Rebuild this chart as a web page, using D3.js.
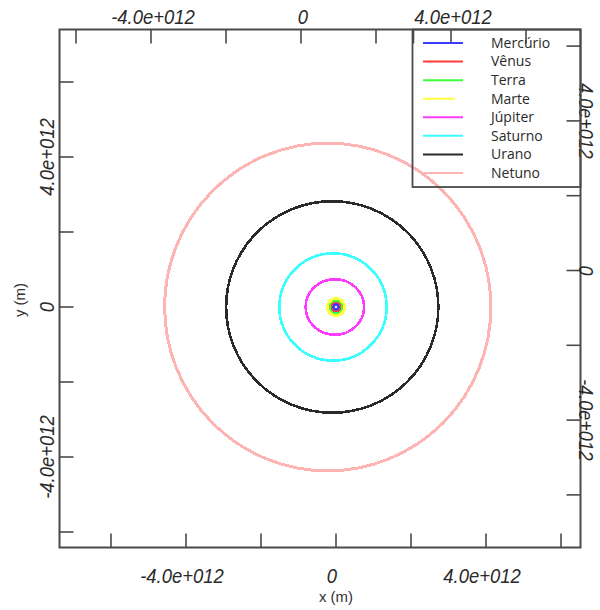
<!DOCTYPE html>
<html>
<head>
<meta charset="utf-8">
<script src="https://cdn.jsdelivr.net/npm/d3@7"></script>
<style>
html,body{margin:0;padding:0;background:#fff;}
svg{display:block;}
</style>
</head>
<body>
<svg id="chart" width="600" height="610"></svg>
<script>
// ---- data ----
const planets = ["Mercúrio", "Vênus", "Terra", "Marte", "Júpiter", "Saturno", "Urano", "Netuno"];
const colors  = ["#3b3bff", "#ff3b3b", "#3bff3b", "#ffff3b", "#ff3bff", "#3bffff", "#2a2a2a", "#ffb4b4"];
// orbit centres and semi-axes (m)
const orbitCx = [0, 0, 0, 0, -0.03e12, -0.08e12, -0.1e12, -0.22e12];
const orbitCy = [0, 0, 0, 0, 0, 0, 0, 0];
const orbitRx = [0.058e12, 0.108e12, 0.15e12, 0.23e12, 0.78e12, 1.43e12, 2.83e12, 4.35e12];
const orbitRy = [0.058e12, 0.108e12, 0.15e12, 0.23e12, 0.74e12, 1.43e12, 2.82e12, 4.37e12];
const tickValues = [-6e12, -4e12, -2e12, 0, 2e12, 4e12, 6e12];
const labelValues = [-4e12, 0, 4e12];
const tickLabels = ["-4.0e+012", "0", "4.0e+012"];
const xTitle = "x (m)", yTitle = "y (m)";

// ---- layout ----
const L = 59.5, R = 580.5, T = 29.5, B = 547.5;
const pxPerUnit = 37.5 / 1e12;
const x = d3.scaleLinear().domain([(L - 336) / pxPerUnit, (R - 336) / pxPerUnit]).range([L, R]);
const y = d3.scaleLinear().domain([-(B - 307) / pxPerUnit, (307 - T) / pxPerUnit]).range([B, T]);
const xTop = d3.scaleLinear().domain([(L - 301) / pxPerUnit, (R - 301) / pxPerUnit]).range([L, R]);
const pxR = 37.4 / 1e12;
const yRight = d3.scaleLinear().domain([-(B - 270.5) / pxR, (270.5 - T) / pxR]).range([B, T]);

const svg = d3.select("#chart");
const g = svg.append("g");

// orbits
const orbits = planets.map((p, i) => ({p, i})).reverse();
g.selectAll("ellipse.orbit").data(orbits).join("ellipse")
  .attr("class", "orbit")
  .attr("cx", d => x(orbitCx[d.i]))
  .attr("cy", d => y(orbitCy[d.i]))
  .attr("rx", d => x(orbitRx[d.i]) - x(0))
  .attr("ry", d => y(0) - y(orbitRy[d.i]))
  .attr("fill", "none")
  .attr("stroke", d => colors[d.i])
  .attr("stroke-width", d => d.i < 4 ? 3 : (d.i === 7 ? 3 : 2.6))
  .attr("shape-rendering", "crispEdges");

// frame
const frameColor = "#4a4a4a";
g.append("rect").attr("x", L).attr("y", T).attr("width", R - L).attr("height", B - T)
  .attr("fill", "none").attr("stroke", frameColor).attr("stroke-width", 2);

const tickLen = 14;
const ticks = g.append("g").attr("stroke", frameColor).attr("stroke-width", 1.6);
// bottom
ticks.selectAll("line.b").data(tickValues).join("line").attr("class", "b")
  .attr("x1", d => x(d)).attr("x2", d => x(d)).attr("y1", B).attr("y2", B - tickLen);
// left
ticks.selectAll("line.l").data(tickValues).join("line").attr("class", "l")
  .attr("x1", L).attr("x2", L + tickLen).attr("y1", d => y(d)).attr("y2", d => y(d));
// top
ticks.selectAll("line.t").data(tickValues.concat([3e12])).join("line").attr("class", "t")
  .attr("x1", d => xTop(d)).attr("x2", d => xTop(d)).attr("y1", T).attr("y2", T + tickLen);
// right
ticks.selectAll("line.r").data(tickValues).join("line").attr("class", "r")
  .attr("x1", R).attr("x2", R - tickLen).attr("y1", d => yRight(d)).attr("y2", d => yRight(d));

// tick labels
const labStyle = s => s.attr("font-family", "Liberation Sans, Arial, sans-serif")
  .attr("font-style", "italic").attr("font-size", 21).attr("fill", "#2a2a2a")
  .attr("text-anchor", "middle");
const fmt = v => tickLabels[labelValues.indexOf(v)];

g.selectAll("text.bl").data(labelValues).join("text").attr("class", "bl").call(labStyle)
  .attr("transform", d => `translate(${x(d) - 4},576) scale(0.88,1)`).attr("dy", "0.35em").text(fmt);
g.selectAll("text.tl").data(labelValues).join("text").attr("class", "tl").call(labStyle)
  .attr("transform", d => `translate(${xTop(d) + 2},17) scale(0.88,1)`).attr("dy", "0.35em").text(fmt);
g.selectAll("text.ll").data(labelValues).join("text").attr("class", "ll").call(labStyle)
  .attr("transform", d => `translate(47,${y(d)}) rotate(-90) scale(0.88,1)`).attr("dy", "0.35em").text(fmt);
g.selectAll("text.rl").data(labelValues).join("text").attr("class", "rl").call(labStyle)
  .attr("font-size", 20)
  .attr("transform", d => `translate(586,${yRight(d)}) rotate(90) scale(0.9,1)`).attr("dy", "0.35em").text(fmt);

// axis titles
g.append("text").attr("x", 336).attr("y", 597).attr("dy", "0.35em")
  .attr("text-anchor", "middle").attr("font-family", "Liberation Sans, Arial, sans-serif")
  .attr("font-size", 15).attr("fill", "#333").text(xTitle);
g.append("text").attr("transform", "translate(20,300) rotate(-90)").attr("dy", "0.35em")
  .attr("text-anchor", "middle").attr("font-family", "Liberation Sans, Arial, sans-serif")
  .attr("font-size", 15).attr("fill", "#333").text(yTitle);

// legend
const lg = g.append("g");
lg.append("rect").attr("x", 412.5).attr("y", T).attr("width", R - 412.5).attr("height", 187 - T)
  .attr("fill", "none").attr("stroke", frameColor).attr("stroke-width", 1.8);
const ly = d3.scaleLinear().domain([0, planets.length - 1]).range([43, 173]);
planets.forEach((p, i) => {
  lg.append("line").attr("x1", 423).attr("x2", i === 3 ? 455 : 463)
    .attr("y1", ly(i)).attr("y2", ly(i)).attr("stroke", colors[i]).attr("stroke-width", 2);
  lg.append("text").attr("x", 491).attr("y", ly(i)).attr("dy", "0.35em")
    .attr("font-family", "Open Sans, sans-serif").attr("font-size", 14).attr("fill", "#2a2a2a").text(p);
});
</script>
</body>
</html>
